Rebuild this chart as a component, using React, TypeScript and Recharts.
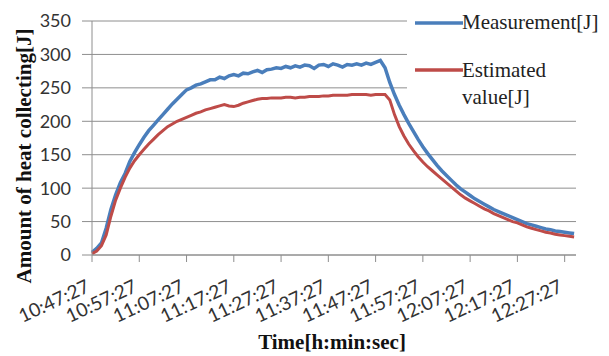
import { LineChart, Line, XAxis, YAxis, CartesianGrid, Legend, Label } from "recharts";

// one sample per minute, starting 10:47:27
const measurement = [
  4, 10, 18, 40, 68, 90, 108, 122, 140, 153,
  165, 176, 186, 194, 202, 210, 218, 226, 233, 240,
  247, 250, 254, 256, 259, 262, 262, 266, 264, 268,
  270, 268, 272, 271, 274, 276, 273, 277, 278, 280,
  279, 282, 280, 283, 281, 284, 283, 279, 284, 285,
  282, 286, 284, 281, 285, 284, 286, 284, 287, 285,
  288, 291, 280, 258, 240, 224, 210, 197, 185, 173,
  162, 152, 143, 134, 126, 119, 112, 105, 99, 94,
  89, 84, 80, 76, 72, 68, 65, 62, 59, 56,
  53, 50, 47, 45, 43, 41, 39, 38, 36, 35,
  34, 33, 32,
];

const estimated = [
  2, 6, 14, 30, 58, 82, 100, 116, 130, 141,
  150, 158, 166, 173, 180, 186, 192, 196, 200, 203,
  206, 209, 212, 214, 217, 219, 221, 223, 225, 223,
  222, 224, 227, 229, 231, 233, 234, 234, 235, 235,
  235, 236, 236, 235, 236, 236, 237, 237, 237, 238,
  238, 239, 239, 239, 239, 240, 240, 240, 240, 239,
  240, 240, 240, 232, 210, 192, 178, 166, 156, 147,
  139, 132, 126, 120, 114, 108, 102, 96, 90, 85,
  81, 77, 73, 69, 66, 62, 59, 56, 53, 50,
  48, 45, 42, 40, 38, 36, 34, 33, 31, 30,
  29, 28, 27,
];

const xTicks = [0, 10, 20, 30, 40, 50, 60, 70, 80, 90, 100];
const xLabels = [
  "10:47:27", "10:57:27", "11:07:27", "11:17:27", "11:27:27", "11:37:27",
  "11:47:27", "11:57:27", "12:07:27", "12:17:27", "12:27:27",
];
const yTicks = [0, 50, 100, 150, 200, 250, 300, 350];

const data = measurement.map((v, i) => ({ t: i, measurement: v, estimated: estimated[i] }));

const BLUE = "#4a7ebb";
const RED = "#be4b48";
const GRID = "#8e8e8e";
const SANS = "Lato, 'Liberation Sans', sans-serif";
const SERIF = "'Liberation Serif', 'Times New Roman', serif";

const TimeTick = (props: any) => {
  const { x, y, payload } = props;
  const idx = xTicks.indexOf(payload.value);
  const ax = x - 1;
  const ay = y + 29;
  return (
    <text
      x={ax}
      y={ay}
      transform={`rotate(-25 ${ax} ${ay})`}
      textAnchor="end"
      fontFamily={SANS}
      fontSize={19}
      fill="#333"
    >
      {xLabels[idx]}
    </text>
  );
};

const LegendBox = () => (
  <div style={{ position: "relative", width: 202, height: 110, background: "#fff", fontFamily: SERIF, fontSize: 21, color: "#222" }}>
    <svg style={{ position: "absolute", left: 8, top: 21 }} width={48} height={4}>
      <line x1={0} y1={2} x2={48} y2={2} stroke={BLUE} strokeWidth={3.5} />
    </svg>
    <div style={{ position: "absolute", left: 55, top: 10, lineHeight: "24px", whiteSpace: "nowrap" }}>Measurement[J]</div>
    <svg style={{ position: "absolute", left: 8, top: 68 }} width={48} height={4}>
      <line x1={0} y1={2} x2={48} y2={2} stroke={RED} strokeWidth={3.5} />
    </svg>
    <div style={{ position: "absolute", left: 55, top: 57, lineHeight: "27px" }}>
      Estimated
      <br />
      value[J]
    </div>
  </div>
);

export default function App() {
  return (
    <div style={{ position: "absolute", left: 0, top: 0, background: "#fff" }}>
      <LineChart width={609} height={356} data={data} margin={{ top: 21, right: 33, bottom: 0, left: 0 }}>
        <CartesianGrid vertical={false} stroke={GRID} strokeWidth={1} />
        <XAxis
          dataKey="t"
          type="number"
          domain={[0, 102.4]}
          ticks={xTicks}
          interval={0}
          height={101}
          tickSize={7}
          tickMargin={0}
          axisLine={{ stroke: GRID }}
          tickLine={{ stroke: GRID }}
          tick={<TimeTick />}
        >
          <Label
            content={() => (
              <text x={332} y={349} textAnchor="middle" fontFamily={SERIF} fontWeight="bold" fontSize={21} fill="#111">
                Time[h:min:sec]
              </text>
            )}
          />
        </XAxis>
        <YAxis
          domain={[0, 350]}
          ticks={yTicks}
          interval={0}
          width={92}
          tickSize={10}
          tickMargin={11}
          axisLine={{ stroke: GRID }}
          tickLine={{ stroke: GRID }}
          tick={{ fill: "#333", fontSize: 18, fontFamily: SANS }}
        >
          <Label
            content={() => (
              <text
                x={31}
                y={156}
                transform="rotate(-90 31 156)"
                textAnchor="middle"
                fontFamily={SERIF}
                fontWeight="bold"
                fontSize={21}
                fill="#111"
              >
                Amount of heat collecting[J]
              </text>
            )}
          />
        </YAxis>
        <Legend
          layout="horizontal"
          verticalAlign="middle"
          align="center"
          content={<LegendBox />}
          wrapperStyle={{ left: 407, top: 0, width: 202, height: 110 }}
        />
        <Line
          dataKey="measurement"
          stroke={BLUE}
          strokeWidth={3.5}
          dot={false}
          isAnimationActive={false}
        />
        <Line
          dataKey="estimated"
          stroke={RED}
          strokeWidth={3}
          dot={false}
          isAnimationActive={false}
        />
      </LineChart>
    </div>
  );
}
